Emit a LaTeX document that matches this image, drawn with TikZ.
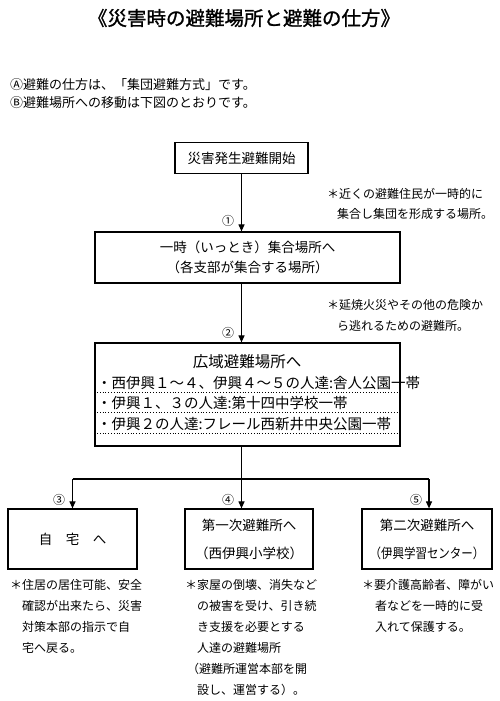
\documentclass[tikz,border=0pt]{standalone}
\usepackage{fontspec}
\newfontfamily\jp{Noto Sans CJK JP}
\newfontfamily\jpb[FakeBold=1.2]{Noto Sans CJK JP}
\usetikzlibrary{arrows.meta}
\begin{document}
\begin{tikzpicture}[x=1pt,y=-1pt,
  box/.style={draw, line width=1.2pt, inner sep=0pt, align=center},
  arr/.style={line width=1.1pt, -{Triangle[length=7pt,width=6pt]}},
  ln/.style={line width=1.1pt},
  t13/.style={font=\jp\fontsize{13.5}{20}\selectfont},
  bl/.style={font=\jp\fontsize{14.5}{16}\selectfont, anchor=west, inner sep=0pt},
  intro/.style={font=\jp\fontsize{13}{15}\selectfont, anchor=west, inner sep=0pt},
  note/.style={font=\jp\fontsize{12}{14}\selectfont, anchor=west, inner sep=0pt},
  num/.style={font=\jp\fontsize{12}{14}\selectfont, inner sep=0pt},
  dl/.style={line width=0.8pt, dotted}]
\useasboundingbox (0,0) rectangle (500,701);
\node[font=\jpb\fontsize{19.5}{22}\selectfont] (title) at (244,18) {《災害時の避難場所と避難の仕方》};
\node[intro] (la) at (10,85) {Ⓐ避難の仕方は、「集団避難方式」です。};
\node[intro] (lb) at (10,103) {Ⓑ避難場所への移動は下図のとおりです。};
% boxes
\node[box, t13, minimum width=133pt, minimum height=31pt] (b1) at (241.5,158) {災害発生避難開始};
\node[box, t13, minimum width=305pt, minimum height=51pt] (b2) at (247.5,257.5) {一時（いっとき）集合場所へ\\（各支部が集合する場所）};
\node[box, minimum width=305pt, minimum height=103pt] (b3) at (247.5,394.5) {};
\node[font=\jp\fontsize{15.5}{18}\selectfont] (b3t) at (247,362) {広域避難場所へ};
\node[bl] (b3a) at (97,383) {・西伊興１～４、伊興４～５の人達:舎人公園一帯};
\node[bl] (b3b) at (97,403) {・伊興１、３の人達:第十四中学校一帯};
\node[bl] (b3c) at (97,424) {・伊興２の人達:フレール西新井中央公園一帯};
\coordinate (d1l) at (97,392); \coordinate (d1r) at (398,392);
\coordinate (d2l) at (97,412); \coordinate (d2r) at (398,412);
\coordinate (d3l) at (97,433); \coordinate (d3r) at (398,433);
\draw[dl] (d1l) -- (d1r);
\draw[dl] (d2l) -- (d2r);
\draw[dl] (d3l) -- (d3r);
\node[box, t13, minimum width=129pt, minimum height=60pt] (h) at (72.5,539) {自\hspace{1em}宅\hspace{1em}へ};
\node[box, t13, minimum width=128pt, minimum height=60pt] (f1) at (249,539) {第一次避難所へ\\[8pt]（西伊興小学校）};
\node[box, t13, minimum width=130pt, minimum height=60pt] (f2) at (427,539) {第二次避難所へ\\[8pt]\scalebox{0.85}[1]{（伊興学習センター）}};
% connectors
\coordinate (a1) at (241.5,232);
\draw[arr] (b1.south -| a1) -- (b2.north -| a1);
\coordinate (a2) at (241.5,300);
\draw[arr] (b2.south -| a2) -- (b3.north -| a2);
\coordinate (jc) at (241.5,479);
\coordinate (jl) at (72.5,479);
\coordinate (jr) at (429,479);
\draw[ln] (b3.south -| jc) -- (jc);
\draw[ln] (jl) -- (jr);
\draw[arr] (jl) -- (h.north -| jl);
\draw[arr] (jc) -- (f1.north -| jc);
\draw[arr] (jr) -- (f2.north -| jr);
\node[num] (n1) at (228,221) {①};
\node[num] (n2) at (228,333) {②};
\node[num] (n3) at (59,500) {③};
\node[num] (n4) at (228,500) {④};
\node[num] (n5) at (416,500) {⑤};
% annotations
\node[note] (an1a) at (327,194) {＊近くの避難住民が一時的に};
\node[note] (an1b) at (337,214) {集合し集団を形成する場所。};
\node[note] (an2a) at (327,305) {＊延焼火災やその他の危険か};
\node[note] (an2b) at (337,326) {ら逃れるための避難所。};
% notes
\node[note] (h1) at (10,585) {＊住居の居住可能、安全};
\node[note] (h2) at (22,606) {確認が出来たら、災害};
\node[note] (h3) at (22,627) {対策本部の指示で自};
\node[note] (h4) at (22,648) {宅へ戻る。};
\node[note] (m1) at (185,585) {＊家屋の倒壊、消失など};
\node[note] (m2) at (197,606) {の被害を受け、引き続};
\node[note] (m3) at (197,627) {き支援を必要とする};
\node[note] (m4) at (197,648) {人達の避難場所};
\node[note] (m5) at (187,669) {（避難所運営本部を開};
\node[note] (m6) at (197,690) {設し、運営する）。};
\node[note] (s1) at (362,585) {＊要介護高齢者、障がい};
\node[note] (s2) at (375,606) {者などを一時的に受};
\node[note] (s3) at (375,627) {入れて保護する。};
\end{tikzpicture}
\end{document}
